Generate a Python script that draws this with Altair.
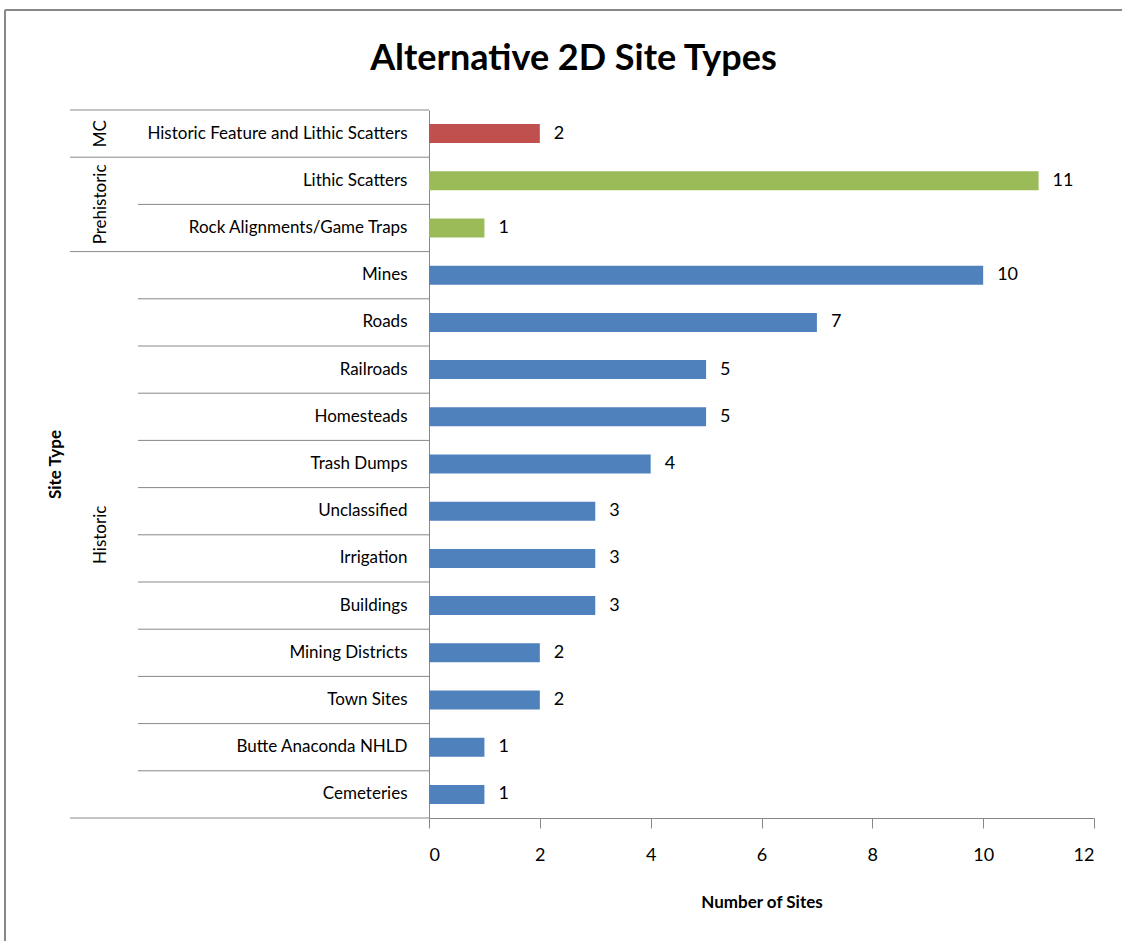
import altair as alt
import pandas as pd

categories = [
    "Historic Feature and Lithic Scatters",
    "Lithic Scatters",
    "Rock Alignments/Game Traps",
    "Mines",
    "Roads",
    "Railroads",
    "Homesteads",
    "Trash Dumps",
    "Unclassified",
    "Irrigation",
    "Buildings",
    "Mining Districts",
    "Town Sites",
    "Butte Anaconda NHLD",
    "Cemeteries",
]
groups = ["MC", "Prehistoric", "Prehistoric"] + ["Historic"] * 12
values = [2, 11, 1, 10, 7, 5, 5, 4, 3, 3, 3, 2, 2, 1, 1]
group_names = ["MC", "Prehistoric", "Historic"]
group_colors = ["#C0504D", "#9BBB59", "#4F81BD"]

df = pd.DataFrame({"cat": categories, "group": groups, "value": values})
first_in_group = df.groupby("group")["cat"].transform("first")
df["is_first"] = df["cat"] == first_in_group

FONT = "Lato, 'Open Sans', sans-serif"
W, H = 665, 708
LEFT = 429

yscale = alt.Scale(domain=categories, paddingInner=0, paddingOuter=0)
y_enc = alt.Y("cat:N", scale=yscale, sort=categories,
              axis=alt.Axis(title="Site Type", titleFont=FONT, titleFontSize=17,
                            titleFontWeight="bold", titleX=-374, titleY=H / 2,
                            titleAngle=270, titleAlign="center", titleBaseline="middle",
                            titleColor="#000",
                            labelFont=FONT, labelFontSize=17, labelColor="#000",
                            labelPadding=22, labelLimit=400, ticks=False,
                            domainColor="#888888", domainWidth=1))

base = alt.Chart(df)

bars = base.mark_bar(size=19).encode(
    x=alt.X("value:Q", scale=alt.Scale(domain=[0, 12]),
            axis=alt.Axis(values=[0, 2, 4, 6, 8, 10, 12], format="d",
                          title="Number of Sites", titleColor="#000",
                          titleFont=FONT, titleFontSize=17, titleFontWeight="bold",
                          titlePadding=30, labelFont=FONT, labelFontSize=18,
                          labelColor="#000", labelPadding=18, tickSize=10,
                          tickColor="#888888", domainColor="#888888", grid=False)),
    y=y_enc,
    color=alt.Color("group:N", scale=alt.Scale(domain=group_names, range=group_colors),
                    legend=None),
)

labels = base.mark_text(align="left", baseline="middle", dx=14, font=FONT,
                        fontSize=18, color="#000").encode(
    x="value:Q", y=alt.Y("cat:N", scale=yscale, sort=categories), text="value:Q")

# separators in the category label area
inner_sep = base.transform_filter("!datum.is_first").mark_rule(
    color="#888888", strokeWidth=1, clip=False).encode(
    y=alt.Y("cat:N", scale=yscale, sort=categories, bandPosition=0),
    x=alt.value(138 - LEFT), x2=alt.value(0))

group_sep = base.transform_filter("datum.is_first").mark_rule(
    color="#888888", strokeWidth=1, clip=False).encode(
    y=alt.Y("cat:N", scale=yscale, sort=categories, bandPosition=0),
    x=alt.value(70 - LEFT), x2=alt.value(0))

bottom_sep = base.transform_filter("datum.cat == 'Cemeteries'").mark_rule(
    color="#888888", strokeWidth=1, clip=False).encode(
    y=alt.Y("cat:N", scale=yscale, sort=categories, bandPosition=1),
    x=alt.value(70 - LEFT), x2=alt.value(0))

# group labels
glab_df = pd.DataFrame({"name": ["Prehistoric", "Historic"],
                        "anchor": ["Rock Alignments/Game Traps", "Irrigation"]})
glab_mid = alt.Chart(pd.DataFrame({"name": ["MC"], "anchor": [categories[0]]})).mark_text(
    angle=270, align="center", baseline="middle", font=FONT, fontSize=17,
    color="#000", clip=False).encode(
    y=alt.Y("anchor:N", scale=yscale, sort=categories, bandPosition=0.5),
    x=alt.value(101 - LEFT), text="name:N")
glab_edge = alt.Chart(glab_df).mark_text(
    angle=270, align="center", baseline="middle", font=FONT, fontSize=17,
    color="#000", clip=False).encode(
    y=alt.Y("anchor:N", scale=yscale, sort=categories, bandPosition=0),
    x=alt.value(101 - LEFT), text="name:N")

# outer frame
frame_df = pd.DataFrame({"k": [0]})
frame_left = alt.Chart(frame_df).mark_rule(color="#888888", strokeWidth=2, clip=False).encode(
    x=alt.value(5 - LEFT), y=alt.value(10 - 110), y2=alt.value(941 - 110))
frame_top = alt.Chart(frame_df).mark_rule(color="#888888", strokeWidth=2, clip=False).encode(
    x=alt.value(5 - LEFT), x2=alt.value(1122 - LEFT), y=alt.value(10 - 110))

chart = alt.layer(
    frame_left, frame_top, inner_sep, group_sep, bottom_sep, bars, labels,
    glab_mid, glab_edge
).properties(
    width=W, height=H,
    background="white",
    title=alt.TitleParams("Alternative 2D Site Types", font=FONT, fontSize=36,
                          fontWeight="bold", color="#000", anchor="middle",
                          frame="group", dx=-188, offset=-69),
    autosize=alt.AutoSizeParams(type="none"),
    padding={"left": LEFT, "top": 110, "right": 1122 - LEFT - W, "bottom": 941 - 110 - H},
).configure_view(strokeWidth=0, stroke="transparent")

chart.save("out.html", embed_options={"renderer": "svg", "actions": False})
